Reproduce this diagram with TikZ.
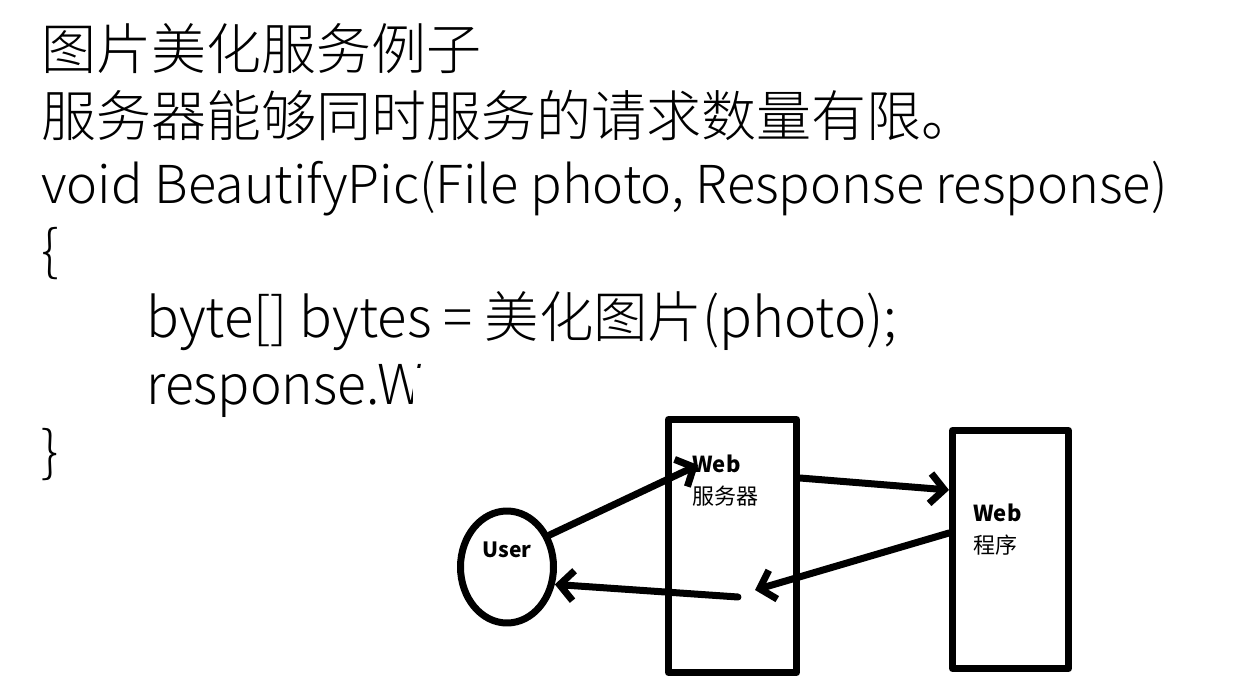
\documentclass[tikz,border=0pt]{standalone}
\usepackage{fontspec}
\IfFontExistsTF{Noto Sans CJK SC Light}
  {\setmainfont{Noto Sans CJK SC Light}[BoldFont={Noto Sans CJK SC Bold}]}
  {\IfFontExistsTF{Noto Sans CJK SC DemiLight}
    {\setmainfont{Noto Sans CJK SC DemiLight}[BoldFont={Noto Sans CJK SC Bold}]}
    {\setmainfont{Noto Sans CJK SC}}}
\newfontfamily\drawfont{Noto Sans CJK SC}
\usetikzlibrary{arrows.meta,shapes.geometric}
\tikzset{
  codeline/.style={anchor=base west,inner sep=0pt,font=\fontsize{27.5}{30}\selectfont},
  boxlabel/.style={anchor=north west,inner sep=0pt,align=left,font=\drawfont\fontsize{11}{16}\selectfont},
  thickline/.style={draw,line width=3.5pt},
  flow/.style={line width=3.5pt,line cap=round,-{Straight Barb[length=7pt,width=15pt]}}
}
\begin{document}
\begin{tikzpicture}[x=0.5pt,y=-0.5pt,line join=round]
	\def\pitch{67} % line spacing of the text
	\useasboundingbox (0,0) rectangle (1254,696);
	% the slide text
	\node[codeline] (title) at (41,69) {图片美化服务例子};
	\node[codeline] (limit) at (41,69+\pitch) {服务器能够同时服务的请求数量有限。};
	\node[codeline] (sig) at (41,69+2*\pitch) {\resizebox{563pt}{!}{void BeautifyPic(File photo, Response response)}};
	\node[codeline] (open) at (41,69+3*\pitch) {\{};
	\node[codeline] (bytes) at (146,69+4*\pitch) {\resizebox{375.5pt}{\height}{byte[] bytes = 美化图片(photo);}};
	\node[codeline] (write) at (146,69+5*\pitch) {\scalebox{0.97}[1]{response.W}};
	\node[codeline] (close) at (41,69+6*\pitch) {\}};
	% the drawing lies over the text
	\fill[white] (413,368) rectangle (1254,696);
	\node[thickline,ellipse,inner sep=0pt,minimum width=46.5pt,minimum height=56pt,
	  label={[font=\drawfont\fontsize{10.5}{12}\selectfont\bfseries,yshift=8.5pt]center:User}] (user) at (507,567) {};
	\node[thickline,rectangle,minimum width=64pt,minimum height=126.5pt] (websrv) at (732.5,546) {};
	\node[thickline,rectangle,minimum width=58pt,minimum height=119pt] (webapp) at (1010.5,549.5) {};
	\node[boxlabel] (srvtext) at ([xshift=13.5pt,yshift=-19.5pt]websrv.north west) {\textbf{Web}\\服务器};
	\node[boxlabel] (apptext) at ([xshift=12pt,yshift=-38.5pt]webapp.north west) {\textbf{Web}\\程序};
	\coordinate (srvin) at (698,465);
	\coordinate (srvout) at (755,590);
	\coordinate (srvback) at (738,597);
	\draw[flow] (user.37) -- (srvin);
	\draw[flow] ([yshift=34pt]websrv.east) -- ([yshift=29.75pt]webapp.west);
	\draw[flow] ([yshift=8.25pt]webapp.west) -- (srvout);
	\draw[flow] (srvback) -- (user.-20);
\end{tikzpicture}
\end{document}
